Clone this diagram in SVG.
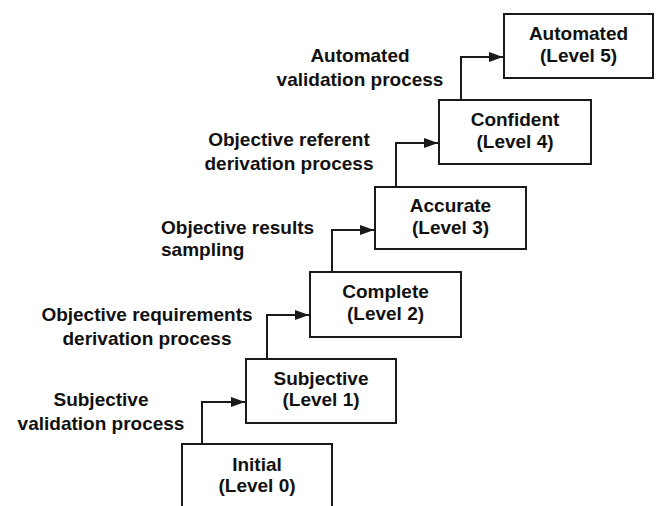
<svg xmlns="http://www.w3.org/2000/svg" width="657" height="506" viewBox="0 0 657 506">
<style>
.box{fill:#fff;stroke:#1a1a1a;stroke-width:2}
.t{font-family:"Liberation Sans",Arial,sans-serif;font-weight:bold;font-size:19px;fill:#111}
.c{text-anchor:middle}
.con{fill:none;stroke:#1a1a1a;stroke-width:2}
</style>
<defs>
<marker id="ah" viewBox="0 0 14 10" refX="14" refY="5" markerWidth="14" markerHeight="10" markerUnits="userSpaceOnUse" orient="auto">
<path d="M0,0 L14,5 L0,10 Z" fill="#1a1a1a"/>
</marker>
</defs>
<rect width="657" height="506" fill="#fff"/>
<g id="connectors">
<path class="con" d="M202,444 V402 H245" marker-end="url(#ah)"/>
<path class="con" d="M267,359 V315 H309" marker-end="url(#ah)"/>
<path class="con" d="M332,272 V230 H374" marker-end="url(#ah)"/>
<path class="con" d="M396,187 V143 H438" marker-end="url(#ah)"/>
<path class="con" d="M461,100 V57 H503" marker-end="url(#ah)"/>
</g>
<g id="labels">
<text class="t c" x="360" y="62">Automated</text>
<text class="t c" x="360" y="86">validation process</text>
<text class="t c" x="289" y="146">Objective referent</text>
<text class="t c" x="289" y="170">derivation process</text>
<text class="t" x="161" y="234">Objective results</text>
<text class="t" x="161" y="256">sampling</text>
<text class="t c" x="147" y="321">Objective requirements</text>
<text class="t c" x="147" y="345">derivation process</text>
<text class="t c" x="101" y="406">Subjective</text>
<text class="t c" x="101" y="430">validation process</text>
</g>
<g id="initial">
<rect class="box" x="182" y="444" width="150" height="66"/>
<text class="t c" x="257" y="471">Initial</text>
<text class="t c" x="257" y="492">(Level 0)</text>
</g>
<g id="subjective">
<rect class="box" x="246" y="359" width="150" height="64"/>
<text class="t c" x="321" y="385">Subjective</text>
<text class="t c" x="321" y="406">(Level 1)</text>
</g>
<g id="complete">
<rect class="box" x="310" y="272" width="151" height="65"/>
<text class="t c" x="385.5" y="298">Complete</text>
<text class="t c" x="385.5" y="320">(Level 2)</text>
</g>
<g id="accurate">
<rect class="box" x="375" y="187" width="151" height="62"/>
<text class="t c" x="450.5" y="212">Accurate</text>
<text class="t c" x="450.5" y="234">(Level 3)</text>
</g>
<g id="confident">
<rect class="box" x="439" y="100" width="152" height="64"/>
<text class="t c" x="515" y="126">Confident</text>
<text class="t c" x="515" y="148">(Level 4)</text>
</g>
<g id="automated">
<rect class="box" x="504" y="14" width="149" height="64"/>
<text class="t c" x="578.5" y="40">Automated</text>
<text class="t c" x="578.5" y="62">(Level 5)</text>
</g>
</svg>
